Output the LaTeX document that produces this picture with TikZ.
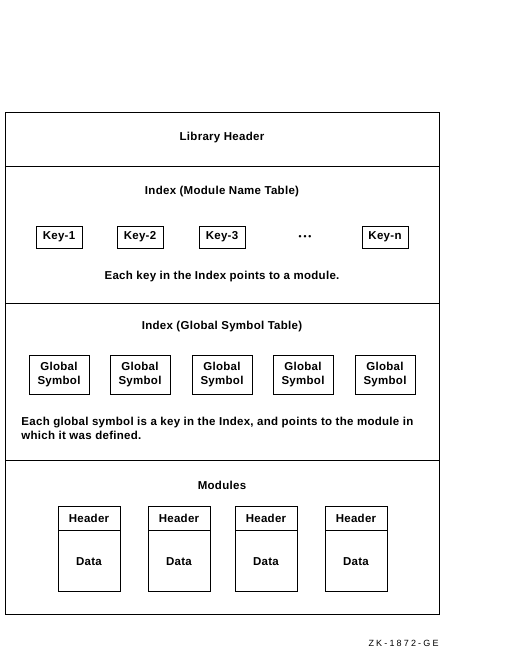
\documentclass[tikz,border=0pt]{standalone}
\usepackage{fontspec}
\setmainfont{Liberation Sans}[LetterSpace=2.5]
\usetikzlibrary{positioning}

\tikzset{
  keybox/.style={draw, minimum width=46pt, minimum height=22pt, inner sep=1pt},
  symbox/.style={draw, minimum width=60pt, minimum height=39pt, inner sep=1pt, align=center},
  hdrbox/.style={draw, minimum width=62pt, minimum height=24pt, inner sep=1pt},
  databox/.style={draw, minimum width=62pt, minimum height=61pt, inner sep=1pt},
  label/.style={inner sep=0pt}
}

\begin{document}
\begin{tikzpicture}[x=1pt, y=-1pt, line width=0.9pt, font=\fontsize{11.5}{13.5}\selectfont\bfseries]
  \useasboundingbox (0,0) rectangle (530,653);
    %outer frame and the four sections
  \draw (5,112) rectangle (439,614);
  \draw (5,166) -- (439,166);
  \draw (5,303) -- (439,303);
  \draw (5,460) -- (439,460);

    %library header
  \node[label] (libhdr) at (222,138) {Library Header};

    %module name table
  \node[label] (mnt) at (222,192) {Index (Module Name Table)};
  \node[keybox] (key1) at (59,237) {Key-1};
  \node[keybox] (key2) at (140,237) {Key-2};
  \node[keybox] (key3) at (222,237) {Key-3};
  \node[label] (kdots) at (305,237) {\fontsize{8.5}{9}\selectfont\textbullet\hspace{2pt}\textbullet\hspace{2pt}\textbullet};
  \node[keybox] (keyn) at (385,237) {Key-n};
  \node[label] (mntnote) at (222,277) {Each key in the Index points to a module.};

    %global symbol table
  \node[label] (gst) at (222,327) {Index (Global Symbol Table)};
  \foreach \x [count=\i] in {59,140,222,303,385}
    \node[symbox] (sym\i) at (\x,374.5) {Global\\Symbol};
  \node[label, anchor=north west, align=left] (gstnote) at (21,417)
    {Each global symbol is a key in the Index, and points to the module in\\which it was defined.};

    %modules
  \node[label] (mods) at (222,485) {Modules};
  \foreach \x [count=\i] in {89,179,266,356} {
    \node[hdrbox] (hdr\i) at (\x,518) {Header};
    \node[databox, below=0pt of hdr\i] (data\i) {Data};
  }

    %figure code
  \node[label, anchor=east] (figid) at (439,643)
    {\fontsize{9}{10}\selectfont\mdseries\addfontfeatures{LetterSpace=24}ZK-1872-GE};
\end{tikzpicture}
\end{document}
